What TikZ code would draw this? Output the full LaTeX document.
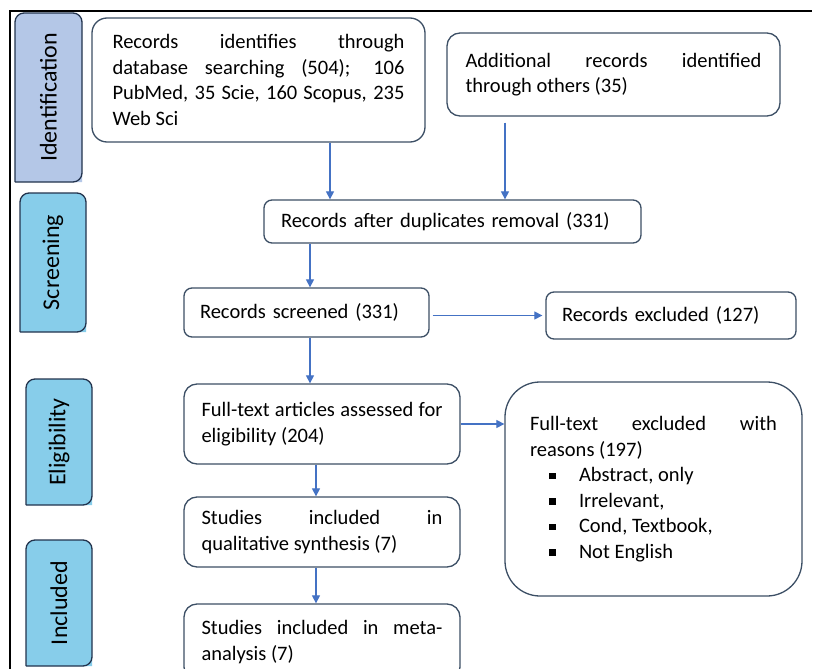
\documentclass[tikz,border=0pt]{standalone}
\usepackage{fontspec}
\setmainfont{Carlito}
\usetikzlibrary{arrows.meta}
\definecolor{boxline}{HTML}{3C4F65}
\definecolor{labline}{HTML}{22334D}
\definecolor{idfill}{HTML}{B4C7E7}
\definecolor{stagefill}{HTML}{87CDEA}
\definecolor{arrblue}{HTML}{4472C4}
\newcommand{\sqitem}[1]{\makebox[49pt][l]{\hspace*{19pt}\rule[2.5pt]{6.5pt}{6.5pt}}#1}
\tikzset{
  box/.style={draw=boxline, line width=1.3pt, fill=white, rounded corners=13pt,
    inner xsep=0pt, inner ysep=0pt, align=justify,
    font=\fontsize{20.5}{25.5}\selectfont},
  stage/.style={inner sep=0pt, font=\fontsize{24}{28}\selectfont},
  stageline/.style={draw=labline, line width=1.3pt},
  arr/.style={draw=arrblue, line width=1.2pt, -{Triangle[length=8pt,width=8pt]}}
}
\begin{document}
\begin{tikzpicture}[x=1pt,y=1pt]
\clip (0,0) rectangle (815,-669);
\fill[white] (0,0) rectangle (815,-669);
\draw[line width=1.2pt] (10,-680) -- (10,-11) -- (812,-11);
% stage labels, flat at the bottom
\fill[idfill, rounded corners=9pt] (15,-182) -- (15,-13) -- (82,-13) -- (82,-182);
\draw[stageline, rounded corners=9pt] (15,-182) -- (15,-13) -- (82,-13) -- (82,-182) -- (15,-182);
\foreach \xa/\ya/\xb/\yb in {20/-193/86/-332, 26/-379/92/-505, 26/-540/92/-666} {
  \fill[stagefill, rounded corners=9pt] (\xa,\yb) -- (\xa,\ya) -- (\xb,\ya) -- (\xb,\yb);
  \draw[stageline, rounded corners=9pt] (\xa,\yb) -- (\xa,\ya) -- (\xb,\ya) -- (\xb,\yb) -- (\xa,\yb);
}
\node[stage] (lid) at (48.5,-97.5) {\rotatebox{90}{Identification}};
\node[stage] (lscr) at (53,-262.5) {\rotatebox{90}{Screening}};
\node[stage] (lel) at (59,-442) {\rotatebox{90}{Eligibility}};
\node[stage] (linc) at (59,-603) {\rotatebox{90}{Included}};
% boxes
\node[box, rounded corners=15pt, minimum width=333, minimum height=124, text width=292] (recs) at (258.5,-80)
  {Records identifies through\linebreak database searching (504); 106\linebreak PubMed, 35 Scie, 160 Scopus, 235\linebreak Web Sci};
\node[box, minimum width=333, minimum height=83, text width=296] (addl) at (613.5,-74.5)
  {Additional records identified\linebreak through others (35)};
\node[box, rounded corners=8pt, minimum width=377, minimum height=43, text width=343, align=left] (dup) at (452.5,-221.5)
  {Records after duplicates removal (331)};
\node[box, rounded corners=8pt, minimum width=245, minimum height=49, text width=213, align=left] (scr) at (306.5,-312.5)
  {Records screened (331)};
\node[box, rounded corners=8pt, minimum width=250, minimum height=47, text width=218, align=left] (exc) at (671,-315.5)
  {Records excluded (127)};
\node[box, minimum width=276, minimum height=80, text width=241] (ft) at (322,-424)
  {Full-text articles assessed for\linebreak eligibility (204)};
\node[box, rounded corners=35pt, minimum width=297, minimum height=214, text width=247] (fte) at (653.5,-489)
  {Full-text excluded with\linebreak reasons (197)\par
   \sqitem{Abstract, only}\par
   \sqitem{Irrelevant,}\par
   \sqitem{Cond, Textbook,}\par
   \sqitem{Not English}};
\node[box, minimum width=276, minimum height=70, text width=241] (qual) at (322,-532)
  {Studies included in\linebreak qualitative synthesis (7)};
\node[box, minimum width=276, minimum height=76, text width=241] (meta) at (322,-642)
  {Studies included in meta-\linebreak analysis (7)};
% arrows
\draw[arr] (recs.south -| 330,0) -- (dup.north -| 330,0);
\draw[arr, shorten <=6pt] (addl.south -| 505,0) -- (dup.north -| 505,0);
\draw[arr] (dup.south -| 310,0) -- (scr.north -| 310,0);
\draw[arr, shorten <=3pt, shorten >=3pt] (scr.east |- exc.west) -- (exc.west);
\draw[arr] (scr.south -| 310,0) -- (ft.north -| 310,0);
\draw[arr] (ft.east) -- (ft.east -| fte.west);
\draw[arr] (ft.south -| 316,0) -- (qual.north -| 316,0);
\draw[arr] (qual.south -| 316,0) -- (meta.north -| 316,0);
\end{tikzpicture}
\end{document}
